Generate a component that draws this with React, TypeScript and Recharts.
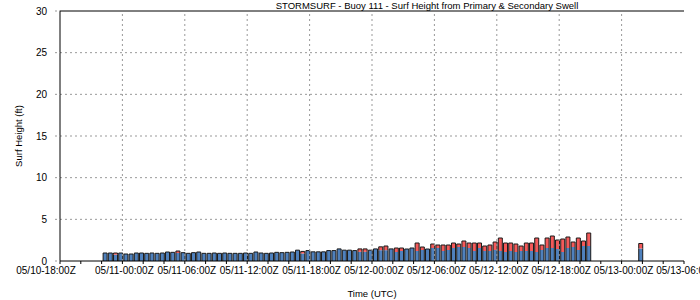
import React from "react";
import { BarChart, Bar, XAxis, YAxis, ReferenceLine } from "recharts";

// hours after 05/10-18:00Z
const START = 4.3;
const STEP = 0.5;
const totals = [
  0.96, 0.96, 0.96, 0.96, 0.84, 0.84, 0.96, 0.96, 0.92, 0.96,
  0.92, 0.96, 1.08, 1.04, 1.2, 1.0, 0.92, 1.0, 1.08, 0.92,
  0.92, 0.96, 0.92, 0.96, 0.92, 0.92, 0.92, 0.96, 0.92, 1.08,
  0.96, 0.92, 0.96, 1.04, 1.0, 1.04, 1.08, 1.3, 1.15, 1.25,
  1.1, 1.1, 1.1, 1.25, 1.25, 1.45, 1.3, 1.3, 1.25, 1.45,
  1.45, 1.3, 1.45, 1.7, 1.8, 1.45, 1.56, 1.56, 1.44, 1.56,
  2.16, 1.68, 1.44, 2.04, 1.92, 1.92, 1.92, 2.16, 2.04, 2.4,
  2.16, 2.16, 2.16, 1.8, 1.92, 2.28, 2.76, 2.16, 2.16, 2.04,
  1.8, 2.16, 2.16, 2.76, 1.92, 2.76, 3.0, 2.52, 2.64, 2.88,
  2.28, 2.76, 2.4, 3.36,
];
const primaryVals = [
  0.96, 0.96, 0.76, 0.96, 0.84, 0.84, 0.96, 0.96, 0.92, 0.96,
  0.92, 0.96, 1.08, 1.04, 0.96, 1.0, 0.92, 1.0, 1.08, 0.92,
  0.92, 0.96, 0.92, 0.96, 0.92, 0.92, 0.92, 0.96, 0.92, 1.08,
  0.96, 0.92, 0.96, 1.04, 1.0, 1.04, 1.08, 1.3, 0.9, 1.25,
  1.1, 1.1, 1.1, 1.25, 1.25, 1.45, 1.3, 1.3, 1.25, 1.1,
  1.1, 1.3, 1.45, 1.3, 1.3, 1.45, 1.08, 1.2, 1.44, 1.56,
  1.2, 1.32, 1.44, 1.56, 1.56, 1.2, 1.32, 1.56, 1.68, 1.68,
  1.56, 1.2, 1.56, 1.2, 1.2, 1.32, 1.2, 1.08, 1.2, 1.08,
  1.2, 1.2, 1.2, 1.08, 1.32, 1.56, 1.56, 1.44, 1.08, 1.56,
  1.68, 1.32, 1.8, 1.8,
];
const extraTime = 55.8;
const extraPrimary = 1.5;
const extraTotal = 2.1;

const tickLabels = [
  "05/10-18:00Z", "05/11-00:00Z", "05/11-06:00Z", "05/11-12:00Z",
  "05/11-18:00Z", "05/12-00:00Z", "05/12-06:00Z", "05/12-12:00Z",
  "05/12-18:00Z", "05/13-00:00Z", "05/13-06:00Z",
];
const yTicks = [0, 5, 10, 15, 20, 25, 30];

const BLUE = "#4F81BD";
const RED = "#F45A5A";
const FONT = "'Liberation Sans', Arial, sans-serif";

const data = [
  ...totals.map((tot, i) => ({
    t: START + STEP * i,
    primary: primaryVals[i],
    secondary: Math.max(0, +(tot - primaryVals[i]).toFixed(2)),
  })),
  { t: extraTime, primary: extraPrimary, secondary: +(extraTotal - extraPrimary).toFixed(2) },
];

const majorTicks = tickLabels.map((_, i) => i * 6);
const allTicks: number[] = [];
for (let h = 0; h <= 60; h += 2) allTicks.push(h);

const PrimaryShape = (props: any) => {
  const { x, y, width, height, payload } = props;
  if (!height || height <= 0) return null;
  const top = payload && payload.secondary > 0;
  const d = top
    ? `M${x},${y + height}V${y}M${x + width},${y}V${y + height}`
    : `M${x},${y + height}V${y}H${x + width}V${y + height}`;
  return (
    <g>
      <rect x={x} y={y} width={width} height={height} fill={BLUE} />
      <path d={d} stroke="#1a1a1a" strokeWidth={1} fill="none" />
    </g>
  );
};

const SecondaryShape = (props: any) => {
  const { x, y, width, height } = props;
  if (!height || height <= 0) return null;
  const d = `M${x},${y + height}V${y}H${x + width}V${y + height}`;
  return (
    <g>
      <rect x={x} y={y} width={width} height={height} fill={RED} />
      <path d={d} stroke="#1a1a1a" strokeWidth={1} fill="none" />
    </g>
  );
};

const XTick = (props: any) => {
  const { x, y, payload } = props;
  const v = payload.value;
  if (v % 6 !== 0) return null;
  const idx = v / 6;
  const dx = idx === 0 ? -14 : 2;
  return (
    <text x={x + dx} y={y} dy="0.71em" textAnchor="middle" fontSize={10} fontFamily={FONT} fill="#000">
      {tickLabels[idx]}
    </text>
  );
};

export default function App() {
  return (
    <div style={{ position: "absolute", left: 0, top: 0, width: 700, height: 300, background: "#fff", overflow: "hidden" }}>
      <div
        style={{
          position: "absolute", left: 427, top: 0, transform: "translateX(-50%)",
          fontFamily: FONT, fontSize: 9.5, lineHeight: "11px", whiteSpace: "nowrap", color: "#000",
        }}
      >
        STORMSURF - Buoy 111 - Surf Height from Primary &amp; Secondary Swell
      </div>
      <div
        style={{
          position: "absolute", left: 18, top: 136, transform: "translate(-50%,-50%) rotate(-90deg)",
          fontFamily: FONT, fontSize: 9.5, whiteSpace: "nowrap", color: "#000",
        }}
      >
        Surf Height (ft)
      </div>
      <BarChart width={700} height={300} data={data} margin={{ top: 11, right: 16, left: 0, bottom: 0 }} barSize={4}>
        {yTicks.slice(1, -1).map((v) => (
          <ReferenceLine key={"h" + v} y={v} stroke="#999" strokeDasharray="2 3" />
        ))}
        {majorTicks.slice(1, -1).map((v) => (
          <ReferenceLine key={"v" + v} x={v} stroke="#999" strokeDasharray="2 3" />
        ))}
        <ReferenceLine y={30} stroke="#000" />
        <XAxis
          dataKey="t"
          type="number"
          domain={[0, 60]}
          ticks={allTicks}
          interval={0}
          height={39}
          tickSize={3}
          tickMargin={3}
          axisLine={{ stroke: "#000" }}
          tickLine={{ stroke: "#000" }}
          tick={<XTick />}
          label={{ value: "Time (UTC)", position: "insideBottom", offset: 3, fontSize: 9.5, fontFamily: FONT, fill: "#000" }}
        />
        <YAxis
          type="number"
          domain={[0, 30]}
          ticks={yTicks}
          width={60}
          tickSize={5}
          tickMargin={8}
          axisLine={{ stroke: "#000" }}
          tickLine={{ stroke: "#999", strokeDasharray: "2 2" }}
          tick={{ fontSize: 10, fontFamily: FONT, fill: "#000" }}
        />
        <Bar dataKey="primary" stackId="a" isAnimationActive={false} shape={<PrimaryShape />} />
        <Bar dataKey="secondary" stackId="a" isAnimationActive={false} shape={<SecondaryShape />} />
      </BarChart>
    </div>
  );
}
